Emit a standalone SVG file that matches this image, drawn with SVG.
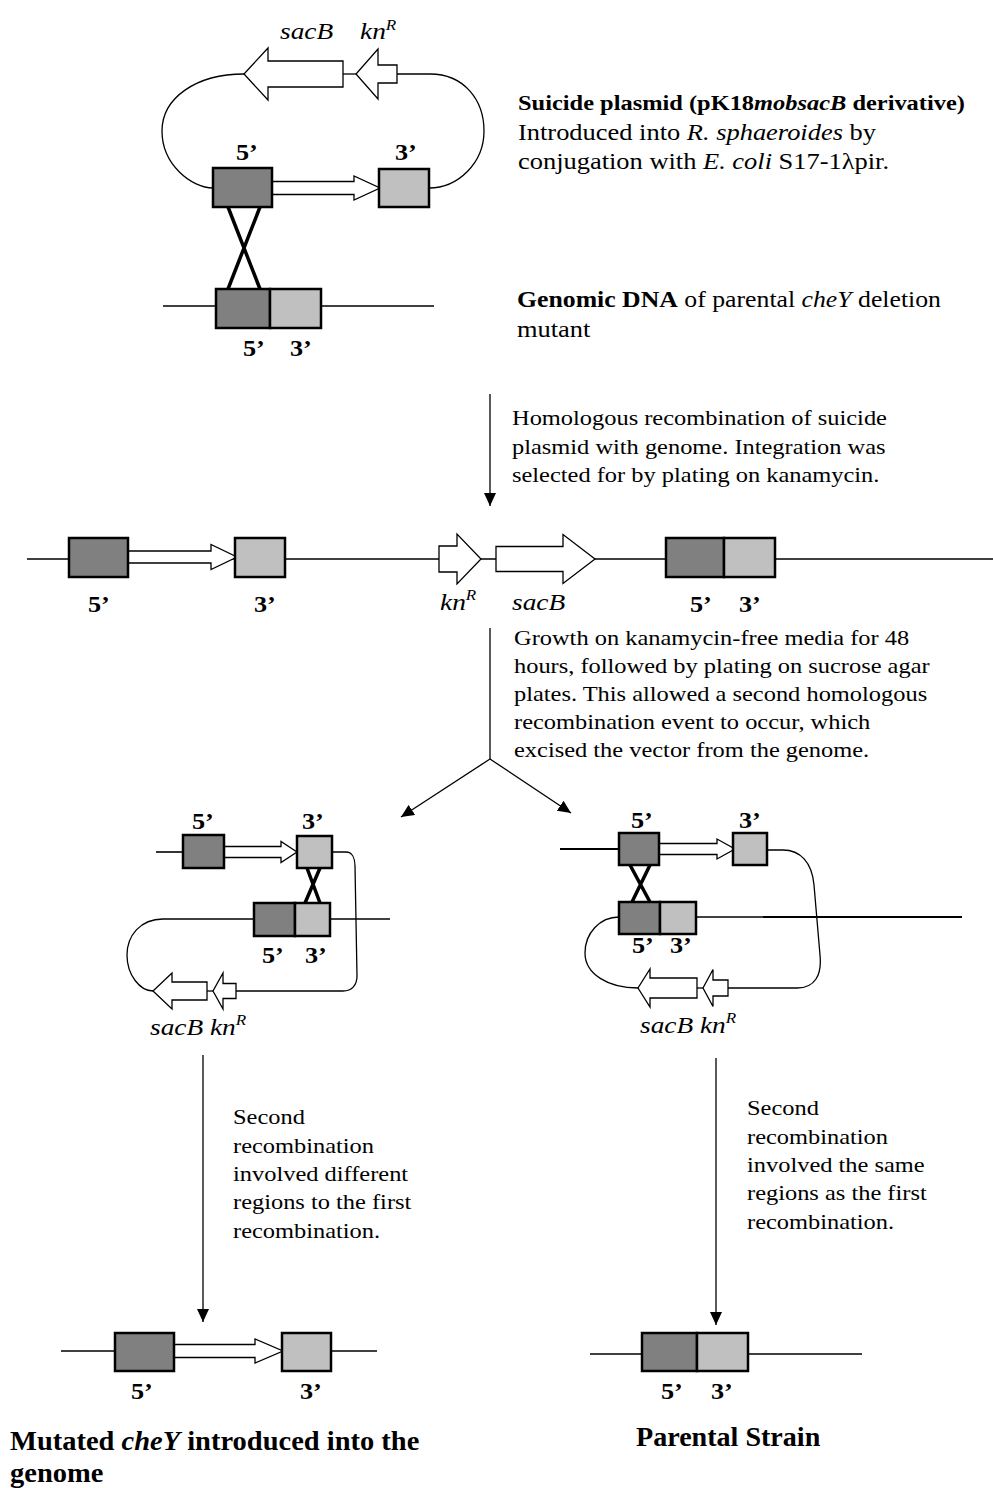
<svg xmlns="http://www.w3.org/2000/svg" width="993" height="1488" viewBox="0 0 993 1488">
<style>
text{font-family:"Liberation Serif","Times New Roman",serif;fill:#000}
.rg{font-size:22px}
.rg23{font-size:23px}
.bd{font-size:22px;font-weight:bold}
.lb{font-size:23px;font-weight:bold}
.gn{font-size:24px;font-style:italic}
.ttl{font-size:27px;font-weight:bold}
.it{font-style:italic}
.ln{stroke:#000;stroke-width:1.3;fill:none}
.gl{stroke:#000;stroke-width:1.6;fill:none}
.b5{fill:#808080;stroke:#000;stroke-width:2.5}
.b3{fill:#c0c0c0;stroke:#000;stroke-width:2.5}
.wa{fill:#fff;stroke:#000;stroke-width:1.3;stroke-linejoin:miter}
.x{stroke:#000;stroke-width:3.5;fill:none}
.ar{stroke:#000;stroke-width:1.3;fill:none;marker-end:url(#ah)}
</style>
<defs>
<marker id="ah" markerUnits="userSpaceOnUse" markerWidth="14" markerHeight="12" refX="13" refY="6" orient="auto"><path d="M0,0 L13,6 L0,12 z" fill="#000"/></marker>
</defs>
<rect width="993" height="1488" fill="#fff"/>

<g id="plasmid">
<path class="ln" d="M244,74 C196,74 162,98 162,131 C162,165 192,188 213,188"/>
<path class="ln" d="M397,74 L430,74 C464,74 484,100 484,131 C484,163 458,188 429,188"/>
<path class="ln" d="M343,74 L356,74"/>
<polygon class="wa" points="343,61 268,61 268,48 244,74 268,100 268,87 343,87"/>
<polygon class="wa" points="397,65 378,65 378,49 356,74 378,99 378,83 397,83"/>
<polygon class="wa" points="272,181.5 354,181.5 354,176 380,188 354,200 354,194.5 272,194.5"/>
<rect class="b5" x="213" y="168" width="59" height="39"/>
<rect class="b3" x="379" y="169" width="50" height="38"/>
<text class="gn" transform="translate(280,39) scale(1.14,1)">sacB</text>
<text class="gn" transform="translate(360,39) scale(1.14,1)">kn<tspan font-size="15" dy="-9">R</tspan></text>
<text class="lb" transform="translate(236,160) scale(1.14,1)">5’</text>
<text class="lb" transform="translate(395,160) scale(1.14,1)">3’</text>
</g>

<g id="crossover-1">
<path class="x" d="M228,207 L260,289 M260,207 L228,289"/>
</g>

<g id="parental-genome">
<path class="gl" d="M163,306 L434,306"/>
<rect class="b5" x="216" y="289" width="54" height="39"/>
<rect class="b3" x="270" y="289" width="51" height="39"/>
<text class="lb" transform="translate(243,356) scale(1.14,1)">5’</text>
<text class="lb" transform="translate(290,356) scale(1.14,1)">3’</text>
</g>

<g id="text-plasmid">
<text class="bd" transform="translate(518,110) scale(1.11,1)">Suicide plasmid (pK18<tspan class="it">mobsacB</tspan> derivative)</text>
<text class="rg23" transform="translate(518,139.5) scale(1.15,1)">Introduced into <tspan class="it">R. sphaeroides</tspan> by</text>
<text class="rg23" transform="translate(518,169) scale(1.15,1)">conjugation with <tspan class="it">E. coli</tspan> S17-1λpir.</text>
</g>

<g id="text-genomic">
<text class="rg23" transform="translate(517,307) scale(1.12,1)"><tspan font-weight="bold">Genomic DNA</tspan> of parental <tspan class="it">cheY</tspan> deletion</text>
<text class="rg23" transform="translate(517,337) scale(1.15,1)">mutant</text>
</g>

<g id="integrated-genome">
<path class="gl" d="M27,559 L993,559"/>
<polygon class="wa" points="128,551 211,551 211,544.5 237,557 211,569.5 211,563 128,563"/>
<rect class="b5" x="69" y="538" width="59" height="39"/>
<rect class="b3" x="235" y="538" width="50" height="39"/>
<polygon class="wa" points="439,546 457,546 457,534 481,559 457,584 457,572 439,572"/>
<polygon class="wa" points="496,546.5 563,546.5 563,534.5 595,559 563,583.5 563,571.5 496,571.5"/>
<rect class="b5" x="666" y="538" width="58" height="39"/>
<rect class="b3" x="724" y="538" width="51" height="39"/>
<text class="lb" transform="translate(88,612) scale(1.14,1)">5’</text>
<text class="lb" transform="translate(254,612) scale(1.14,1)">3’</text>
<text class="gn" transform="translate(440,610) scale(1.14,1)">kn<tspan font-size="15" dy="-10">R</tspan></text>
<text class="gn" transform="translate(512,610) scale(1.14,1)">sacB</text>
<text class="lb" transform="translate(690,612) scale(1.14,1)">5’</text>
<text class="lb" transform="translate(739,612) scale(1.14,1)">3’</text>
</g>

<g id="text-step1">
<text class="rg" transform="translate(512,425) scale(1.11,1)">Homologous recombination of suicide</text>
<text class="rg" transform="translate(512,453.5) scale(1.11,1)">plasmid with genome. Integration was</text>
<text class="rg" transform="translate(512,482) scale(1.11,1)">selected for by plating on kanamycin.</text>
</g>

<g id="text-step2">
<text class="rg" transform="translate(514,645) scale(1.11,1)">Growth on kanamycin-free media for 48</text>
<text class="rg" transform="translate(514,673) scale(1.11,1)">hours, followed by plating on sucrose agar</text>
<text class="rg" transform="translate(514,701) scale(1.11,1)">plates. This allowed a second homologous</text>
<text class="rg" transform="translate(514,729) scale(1.11,1)">recombination event to occur, which</text>
<text class="rg" transform="translate(514,757) scale(1.11,1)">excised the vector from the genome.</text>
</g>

<g id="excision-different">
<path class="gl" d="M156,852 L183,852"/>
<path class="ln" d="M332,852 L346,852 C352,852 355,858 355,866 L357,976 C357,985 352,991 343,991 L236,991"/>
<path class="gl" d="M330,919 L390,919"/>
<path class="ln" d="M254,919 L163,919 C140,919 127,936 127,955 C127,975 140,991 153,991"/>
<path class="ln" d="M207,991 L213,991"/>
<polygon class="wa" points="224,846.5 281,846.5 281,841.5 297,852 281,862.5 281,857.5 224,857.5"/>
<rect class="b5" x="183" y="835" width="41" height="33"/>
<rect class="b3" x="297" y="836" width="35" height="32"/>
<path class="x" d="M307,868 L320,903 M320,868 L305,903"/>
<rect class="b5" x="254" y="903" width="41" height="33"/>
<rect class="b3" x="295" y="903" width="35" height="33"/>
<polygon class="wa" points="207,982 172,982 172,973 153,991 172,1009 172,1000 207,1000"/>
<polygon class="wa" points="236,983.5 223,983.5 223,973 213,991 223,1009 223,998.5 236,998.5"/>
<text class="lb" transform="translate(192,829) scale(1.14,1)">5’</text>
<text class="lb" transform="translate(302,829) scale(1.14,1)">3’</text>
<text class="lb" transform="translate(262,963) scale(1.14,1)">5’</text>
<text class="lb" transform="translate(305,963) scale(1.14,1)">3’</text>
<text class="gn" transform="translate(150,1035) scale(1.14,1)">sacB kn<tspan font-size="15" dy="-10">R</tspan></text>
</g>

<g id="excision-same">
<path class="gl" d="M560,849 L619,849" style="stroke-width:2"/>
<path class="ln" d="M767,850 L783,850 C800,850 812,862 814,885 L820,955 C822,975 815,988 797,988 L728,988"/>
<path class="ln" d="M696,917 L763,917"/>
<path class="gl" d="M763,917 L962,917" style="stroke-width:2.2"/>
<path class="ln" d="M619,917 C600,917 585,933 585,953 C585,974 608,988 638,988"/>
<path class="ln" d="M697,988 L703,988"/>
<polygon class="wa" points="659,843.5 717,843.5 717,839 735,849 717,859 717,854.5 659,854.5"/>
<rect class="b5" x="619" y="833" width="40" height="32"/>
<rect class="b3" x="733" y="833" width="34" height="32"/>
<path class="x" d="M630,865 L650,902 M650,865 L632,902"/>
<rect class="b5" x="619" y="902" width="41" height="32"/>
<rect class="b3" x="660" y="902" width="36" height="32"/>
<polygon class="wa" points="697,978 650,978 650,969 638,988 650,1007 650,998 697,998"/>
<polygon class="wa" points="728,980 713,980 713,969.5 703,988 713,1006.5 713,996 728,996"/>
<text class="lb" transform="translate(631,828) scale(1.14,1)">5’</text>
<text class="lb" transform="translate(739,828) scale(1.14,1)">3’</text>
<text class="lb" transform="translate(632,953) scale(1.14,1)">5’</text>
<text class="lb" transform="translate(670,953) scale(1.14,1)">3’</text>
<text class="gn" transform="translate(640,1033) scale(1.14,1)">sacB kn<tspan font-size="15" dy="-10">R</tspan></text>
</g>

<g id="text-left">
<text class="rg" transform="translate(233,1124) scale(1.11,1)">Second</text>
<text class="rg" transform="translate(233,1152.5) scale(1.11,1)">recombination</text>
<text class="rg" transform="translate(233,1181) scale(1.11,1)">involved different</text>
<text class="rg" transform="translate(233,1209) scale(1.11,1)">regions to the first</text>
<text class="rg" transform="translate(233,1237.5) scale(1.11,1)">recombination.</text>
</g>

<g id="text-right">
<text class="rg" transform="translate(747,1115) scale(1.11,1)">Second</text>
<text class="rg" transform="translate(747,1143.5) scale(1.11,1)">recombination</text>
<text class="rg" transform="translate(747,1172) scale(1.11,1)">involved the same</text>
<text class="rg" transform="translate(747,1200) scale(1.11,1)">regions as the first</text>
<text class="rg" transform="translate(747,1228.5) scale(1.11,1)">recombination.</text>
</g>

<g id="result-mutant">
<path class="gl" d="M61,1351 L377,1351"/>
<polygon class="wa" points="174,1344.5 255,1344.5 255,1339 283,1351 255,1363 255,1357.5 174,1357.5"/>
<rect class="b5" x="115" y="1333" width="59" height="38"/>
<rect class="b3" x="282" y="1333" width="49" height="38"/>
<text class="lb" transform="translate(131,1399) scale(1.14,1)">5’</text>
<text class="lb" transform="translate(300,1399) scale(1.14,1)">3’</text>
<text class="ttl" transform="translate(10,1450) scale(1.055,1)">Mutated <tspan class="it">cheY</tspan> introduced into the</text>
<text class="ttl" transform="translate(10,1482) scale(1.055,1)">genome</text>
</g>

<g id="result-parental">
<path class="gl" d="M590,1354 L862,1354"/>
<rect class="b5" x="642" y="1333" width="55" height="38"/>
<rect class="b3" x="697" y="1333" width="51" height="38"/>
<text class="lb" transform="translate(661,1399) scale(1.14,1)">5’</text>
<text class="lb" transform="translate(711,1399) scale(1.14,1)">3’</text>
<text class="ttl" transform="translate(636,1446) scale(1.04,1)">Parental Strain</text>
</g>

<g id="connectors">
<path class="ar" d="M490,394 L490,506"/>
<path class="ln" d="M490,628 L490,759"/>
<path class="ar" d="M490,759 L401,817"/>
<path class="ar" d="M490,759 L571,813"/>
<path class="ar" d="M203,1055 L203,1322"/>
<path class="ar" d="M716,1058 L716,1325"/>
</g>
</svg>
